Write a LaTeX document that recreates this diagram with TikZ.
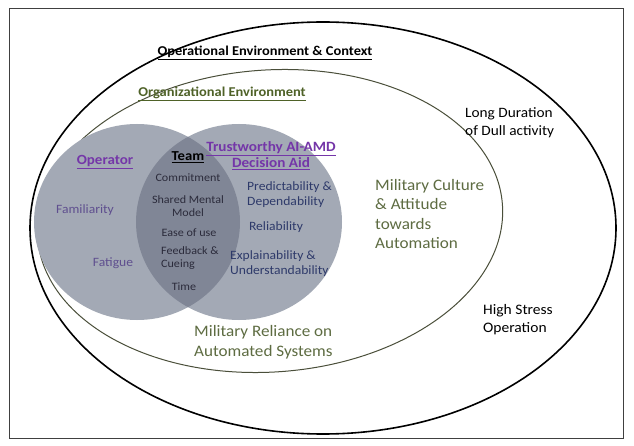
\documentclass[tikz,border=0pt]{standalone}
\usepackage{fontspec}
\setmainfont{Carlito}[FakeStretch=1.07]
\usetikzlibrary{shapes.geometric}
\definecolor{circfill}{HTML}{A3A9B5}
\definecolor{lensfill}{HTML}{808696}
\definecolor{purp}{HTML}{7436A8}
\definecolor{mpurp}{HTML}{5F4F8F}
\definecolor{dkc}{HTML}{2B2B3B}
\definecolor{navy}{HTML}{2E3A6A}
\definecolor{dgreen}{HTML}{4F6228}
\definecolor{lgreen}{HTML}{5E6C42}
\definecolor{ringc}{HTML}{4A4F3A}
\tikzset{
  lbl/.style={inner sep=0pt, align=left},
  clbl/.style={inner sep=0pt, align=center},
}
\begin{document}
\begin{tikzpicture}[x=1pt,y=-1pt]
\useasboundingbox (0,0) rectangle (634,446);
\fill[white] (0,0) rectangle (634,446);
\draw[line width=1pt, draw=black!75] (9,9) rectangle (623,438);
% outer ellipse
\draw[line width=1.6pt] (323,228) ellipse [x radius=293, y radius=206];
% inner ellipse
\draw[line width=1pt, draw=ringc, rotate around={4:(270,221)}] (270,221) ellipse [x radius=233, y radius=151];
% circles
\fill[circfill] (137,222) ellipse [x radius=103, y radius=98];
\fill[circfill] (239,222) ellipse [x radius=103, y radius=98];
\begin{scope}
\clip (137,222) ellipse [x radius=103, y radius=98];
\fill[lensfill] (239,222) ellipse [x radius=103, y radius=98];
\end{scope}
% texts
\node[clbl, font=\fontsize{13.5}{16}\selectfont\bfseries] (oec) at (265,53) {\underline{Operational Environment \& Context}};
\node[clbl, font=\fontsize{13.5}{16}\selectfont\bfseries, text=dgreen] (org) at (222,94) {\underline{Organizational Environment}};
\node[lbl, anchor=west, font=\fontsize{14.3}{18}\selectfont] (ldd) at (465,123) {Long Duration\\of Dull activity};
\node[lbl, anchor=west, font=\fontsize{16}{19.5}\selectfont, text=lgreen] (mca) at (375,214) {Military Culture\\\& Attitude\\towards\\Automation};
\node[lbl, anchor=west, font=\fontsize{14.5}{18}\selectfont] (hso) at (483,320) {High Stress\\Operation};
\node[lbl, anchor=west, font=\fontsize{16}{20}\selectfont, text=lgreen] (mra) at (194,342) {Military Reliance on\\Automated Systems};
\node[clbl, font=\fontsize{14}{16}\selectfont\bfseries, text=purp] (op) at (105,162) {\underline{Operator}};
\node[clbl, font=\fontsize{13.7}{16}\selectfont\bfseries] (team) at (188,157) {\underline{Team}};
\node[clbl, font=\fontsize{14.2}{16}\selectfont\bfseries, text=purp] (ai) at (271,156) {\underline{Trustworthy AI-AMD}\\\underline{Decision Aid}};
\node[clbl, font=\fontsize{12.7}{14}\selectfont, text=mpurp] (fam) at (85,210) {Familiarity};
\node[clbl, font=\fontsize{12.7}{14}\selectfont, text=mpurp] (fat) at (113,263) {Fatigue};
\node[clbl, font=\fontsize{11.3}{13}\selectfont, text=dkc] (com) at (188,178) {Commitment};
\node[clbl, font=\fontsize{11.3}{13}\selectfont, text=dkc] (smm) at (188,206) {Shared Mental\\Model};
\node[clbl, font=\fontsize{11.3}{13}\selectfont, text=dkc] (eou) at (189,233) {Ease of use};
\node[lbl, anchor=west, font=\fontsize{11.3}{13}\selectfont, text=dkc] (fbc) at (161,258) {Feedback \&\\Cueing};
\node[clbl, font=\fontsize{11.3}{13}\selectfont, text=dkc] (time) at (184,287) {Time};
\node[lbl, anchor=west, font=\fontsize{12.7}{15}\selectfont, text=navy] (pd) at (247,195) {Predictability \&\\Dependability};
\node[clbl, font=\fontsize{12.7}{15}\selectfont, text=navy] (rel) at (276,227) {Reliability};
\node[lbl, anchor=west, font=\fontsize{12.7}{15}\selectfont, text=navy] (eu) at (230,264) {Explainability \&\\Understandability};
\end{tikzpicture}
\end{document}
